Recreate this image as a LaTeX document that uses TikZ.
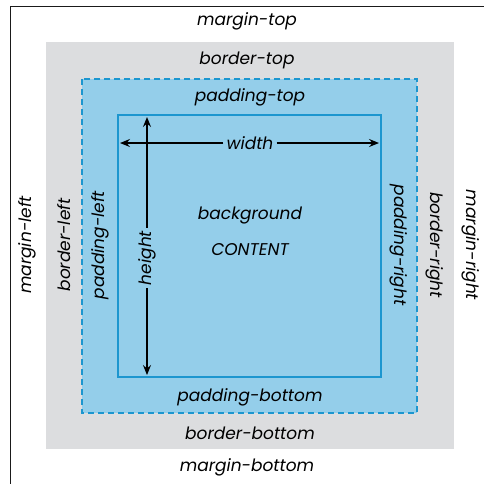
\documentclass[tikz,border=0pt]{standalone}
\usepackage{xcolor}
\usepackage{fontspec}
\setmainfont{Poppins}
\usepackage{tikz}
\usetikzlibrary{arrows.meta}

\definecolor{marginline}{HTML}{1A1A1A}
\definecolor{bordergray}{HTML}{DCDDDF}
\definecolor{padblue}{HTML}{94CEEA}
\definecolor{lineblue}{HTML}{1C96CF}

\begin{document}
\begin{tikzpicture}[x=1pt,y=-1pt,
        boxlabel/.style={font=\fontsize{17}{19}\selectfont\itshape,text=black,inner sep=1pt},
        dimarrow/.style={line width=1.3pt,-{Stealth[length=10pt,width=8pt,inset=3.5pt]}}]
        \useasboundingbox (0,0) rectangle (484,483);
        \clip (0,0) rectangle (484,483);
        % frame
        \draw[line width=1.3pt,marginline] (10.5,490) -- (10.5,6.5) -- (490,6.5);
        % border, padding, content
        \fill[bordergray] (46,42) rectangle (454,449);
        \fill[padblue] (82,79) rectangle (417,413);
        \draw[lineblue,line width=1.2pt,dash pattern=on 6pt off 4pt] (82,79) rectangle (417,413);
        \draw[lineblue,line width=1.2pt] (118,115) rectangle (381,377);

        \node[boxlabel] (mt) at (247,21) {margin-top};
        \node[boxlabel] (bt) at (247,60) {border-top};
        \node[boxlabel] (pt) at (250,97) {padding-top};
        \node[boxlabel] (pb) at (250,397) {padding-bottom};
        \node[boxlabel] (bb) at (250,433) {border-bottom};
        \node[boxlabel] (mb) at (247,467) {margin-bottom};

        \node[boxlabel,rotate=90] (ml) at (27,245) {margin-left};
        \node[boxlabel,rotate=90] (bl) at (64,245) {border-left};
        \node[boxlabel,rotate=90] (pl) at (100,245) {padding-left};
        \node[boxlabel,rotate=-90] (pr) at (399,245) {padding-right};
        \node[boxlabel,rotate=-90] (br) at (435,245) {border-right};
        \node[boxlabel,rotate=-90] (mr) at (471,245) {margin-right};

        \node[boxlabel] (bg) at (250,215) {background};
        \node[boxlabel] (ct) at (250,250) {CONTENT};

        % width and height
        \coordinate (wl) at (120,143);
        \coordinate (wr) at (379,143);
        \coordinate (ht) at (147,117);
        \coordinate (hb) at (147,375);
        \node[boxlabel,inner sep=3pt] (wd) at (250,143) {width};
        \node[boxlabel,inner sep=3pt,rotate=90] (hg) at (147,258) {height};
        \draw[dimarrow] (wd) -- (wl);
        \draw[dimarrow] (wd) -- (wr);
        \draw[dimarrow] (hg) -- (ht);
        \draw[dimarrow] (hg) -- (hb);
        \end{tikzpicture}
\end{document}
